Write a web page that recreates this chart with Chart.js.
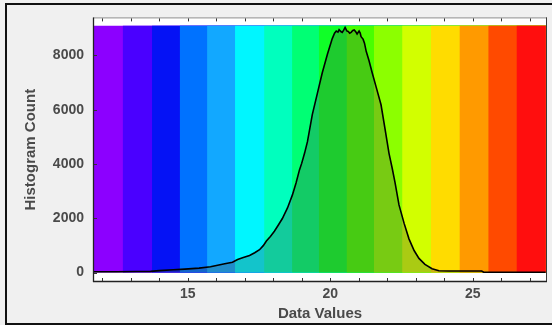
<!DOCTYPE html>
<html>
<head>
<meta charset="utf-8">
<script src="https://cdn.jsdelivr.net/npm/chart.js@4/dist/chart.umd.min.js"></script>
<style>
  html, body { margin: 0; padding: 0; background: #f0f0f0; }
  #wrap { position: relative; width: 552px; height: 325px; overflow: hidden; }
  #c { position: absolute; left: 0; top: 0; }
  #frame { position: absolute; left: 5px; top: 3px; width: 570px; height: 322px; box-sizing: border-box; border: 2px solid #111; pointer-events: none; }
</style>
</head>
<body>
<div id="wrap">
  <canvas id="c" width="552" height="325"></canvas>
  <div id="frame"></div>
</div>
<script>
// ---- data ----
const histX = [11.7, 12.5, 13.2, 13.7, 14.0, 14.5, 14.9, 15.4, 15.8, 16.05, 16.3, 16.57, 16.75, 16.95, 17.17, 17.35, 17.52, 17.65, 17.76, 17.9, 18.04, 18.18, 18.32, 18.5, 18.67, 18.8, 18.92, 19.0, 19.1, 19.2, 19.37, 19.55, 19.72, 19.9, 20.07, 20.15, 20.21, 20.27, 20.31, 20.37, 20.42, 20.47, 20.52, 20.58, 20.63, 20.68, 20.73, 20.79, 20.84, 20.9, 20.94, 21.01, 21.05, 21.08, 21.15, 21.2, 21.26, 21.36, 21.47, 21.61, 21.78, 21.92, 22.06, 22.17, 22.27, 22.41, 22.59, 22.76, 22.94, 23.11, 23.32, 23.57, 23.81, 24.16, 24.8, 25.31, 25.38, 26.5, 27.55];
const histCount = [30, 30, 35, 40, 70, 100, 125, 160, 210, 270, 320, 380, 480, 550, 630, 730, 840, 990, 1160, 1330, 1520, 1750, 1990, 2380, 2850, 3300, 3780, 4030, 4400, 4820, 5820, 6610, 7360, 8040, 8620, 8820, 8900, 8860, 8950, 8880, 8850, 8930, 9030, 8900, 8880, 8820, 8850, 8920, 8940, 8860, 8790, 8900, 8820, 8690, 8600, 8450, 8150, 7800, 7360, 6830, 6180, 5290, 4390, 3850, 3320, 2490, 1810, 1240, 810, 520, 300, 140, 65, 55, 55, 55, 10, 10, 10];
const bandEdges = [11.7, 12.72, 13.75, 14.72, 15.68, 16.66, 17.68, 18.66, 19.6, 20.57, 21.53, 22.52, 23.53, 24.53, 25.54, 26.53, 27.56];
const bandColors = ['#8c00ff', '#4a00ff', '#0512f5', '#0072ff', '#12a8ff', '#00f6ff', '#00ffbe', '#00ff74', '#10ff28', '#48ff00', '#8cff00', '#d2ff00', '#ffdc00', '#ff9a00', '#ff4a00', '#ff0e0e'];
const bandTop = 9090;
const xTicks = [15, 20, 25];
const xMinorTicks = [12, 13, 14, 15, 16, 17, 18, 19, 20, 21, 22, 23, 24, 25, 26, 27];
const yTicks = [0, 2000, 4000, 6000, 8000];
const xTitle = 'Data Values';
const yTitle = 'Histogram Count';

// ---- build datasets ----
const histPoints = histX.map((x, i) => ({ x: x, y: histCount[i] }));
const datasets = [{
  data: histPoints,
  borderColor: '#000',
  borderWidth: 1.6,
  backgroundColor: 'rgba(70,70,70,0.28)',
  fill: 'origin',
  pointRadius: 0,
  tension: 0,
  order: 0
}];
// each band is filled from its own left edge to the last edge; later bands are painted over
// earlier ones, so adjacent bands meet without anti-aliasing seams
const lastEdge = bandEdges[bandEdges.length - 1];
bandColors.forEach((col, i) => {
  datasets.push({
    data: [{ x: bandEdges[i], y: bandTop }, { x: lastEdge, y: bandTop }],
    borderWidth: 0,
    borderColor: col,
    backgroundColor: col,
    fill: 'origin',
    pointRadius: 0,
    order: 100 - i
  });
});

const frameAndTicks = {
  id: 'frameAndTicks',
  beforeDraw(chart) {
    const a = chart.chartArea, ctx = chart.ctx;
    ctx.save();
    ctx.fillStyle = '#ffffff';
    ctx.fillRect(a.left, a.top, a.right - a.left, a.bottom - a.top);
    ctx.restore();
  },
  afterDatasetsDraw(chart) {
    const a = chart.chartArea, ctx = chart.ctx;
    const xs = chart.scales.x, ys = chart.scales.y;
    ctx.save();
    ctx.lineWidth = 1;
    ctx.strokeStyle = '#8a8a8a';
    ctx.beginPath(); ctx.moveTo(a.left, a.top + 0.5); ctx.lineTo(a.right, a.top + 0.5); ctx.stroke();
    ctx.strokeStyle = '#3a3a3a';
    ctx.beginPath(); ctx.moveTo(a.right - 0.5, a.top); ctx.lineTo(a.right - 0.5, a.bottom); ctx.stroke();
    ctx.strokeStyle = '#222';
    ctx.lineWidth = 1.3;
    ctx.beginPath(); ctx.moveTo(a.left + 0.5, a.top); ctx.lineTo(a.left + 0.5, a.bottom); ctx.stroke();
    ctx.beginPath(); ctx.moveTo(a.left, a.bottom - 0.5); ctx.lineTo(a.right, a.bottom - 0.5); ctx.stroke();
    ctx.lineWidth = 1;
    ctx.strokeStyle = '#333';
    xMinorTicks.forEach(v => {
      const px = Math.round(xs.getPixelForValue(v)) + 0.5;
      ctx.beginPath(); ctx.moveTo(px, a.bottom - 1); ctx.lineTo(px, a.bottom - 4); ctx.stroke();
      ctx.beginPath(); ctx.moveTo(px, a.top + 1); ctx.lineTo(px, a.top + 4); ctx.stroke();
    });
    yTicks.forEach(v => {
      const py = Math.round(ys.getPixelForValue(v)) + 0.5;
      ctx.beginPath(); ctx.moveTo(a.left + 1, py); ctx.lineTo(a.left + 4, py); ctx.stroke();
    });
    ctx.restore();
  }
};

const tickFont = { family: "'Liberation Sans', Arial, sans-serif", size: 14, weight: 'bold' };
const titleFont = { family: "'Liberation Sans', Arial, sans-serif", size: 15, weight: 'bold' };

new Chart(document.getElementById('c'), {
  type: 'line',
  data: { datasets: datasets },
  plugins: [frameAndTicks],
  options: {
    responsive: false,
    animation: false,
    devicePixelRatio: 1,
    layout: { padding: { left: 0, top: 11, right: 5, bottom: 0 } },
    plugins: { legend: { display: false }, tooltip: { enabled: false } },
    scales: {
      x: {
        type: 'linear',
        min: 11.68,
        max: 27.6,
        grid: { display: false, drawTicks: false },
        border: { display: false },
        afterBuildTicks: s => { s.ticks = xTicks.map(v => ({ value: v })); },
        afterFit: s => { s.height = 43; },
        ticks: { font: tickFont, color: '#4a4a4a', padding: 4, maxRotation: 0, callback: v => String(v) },
        title: { display: true, text: xTitle, font: titleFont, color: '#4a4a4a', padding: { top: 0, bottom: 2 } }
      },
      y: {
        type: 'linear',
        min: -350,
        max: 9400,
        grid: { display: false, drawTicks: false },
        border: { display: false },
        afterBuildTicks: s => { s.ticks = yTicks.map(v => ({ value: v })); },
        afterFit: s => { s.width = 93; },
        ticks: { font: tickFont, color: '#4a4a4a', padding: 9, callback: v => String(v) },
        title: { display: true, text: yTitle, font: titleFont, color: '#4a4a4a', padding: { top: 22, bottom: 0 } }
      }
    }
  }
});
</script>
</body>
</html>
